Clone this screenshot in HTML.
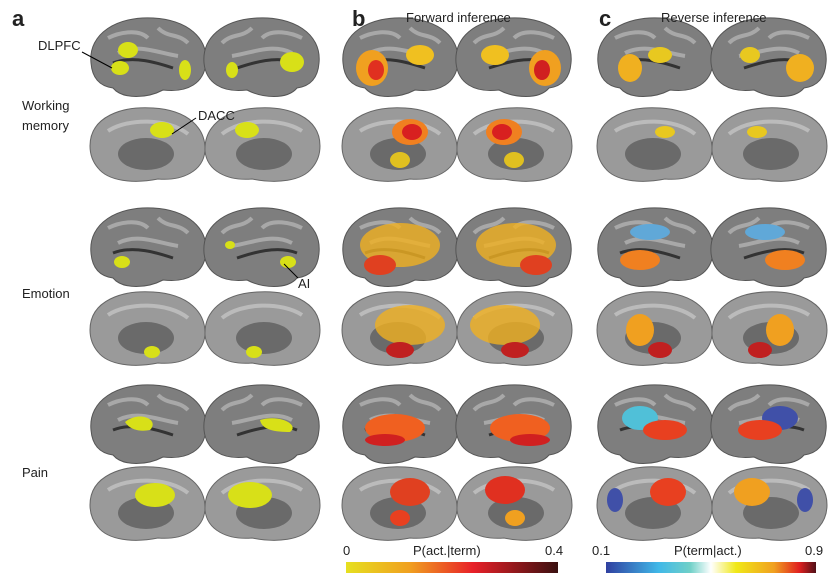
<!DOCTYPE html>
<html><head><meta charset="utf-8"><style>
html,body{margin:0;padding:0;background:#fff}
svg{display:block}
text{font-family:"Liberation Sans",sans-serif;fill:#222}
</style></head><body>
<svg width="835" height="586" viewBox="0 0 835 586" xmlns="http://www.w3.org/2000/svg">
<defs>
<linearGradient id="gb" x1="0" x2="1"><stop offset="0" stop-color="#e6e020"/><stop offset="0.3" stop-color="#f0a020"/><stop offset="0.6" stop-color="#e82028"/><stop offset="1" stop-color="#3a1010"/></linearGradient>
<linearGradient id="gc" x1="0" x2="1"><stop offset="0" stop-color="#3040a0"/><stop offset="0.25" stop-color="#40b8e8"/><stop offset="0.4" stop-color="#70d0c8"/><stop offset="0.5" stop-color="#ffffff"/><stop offset="0.62" stop-color="#f0e818"/><stop offset="0.8" stop-color="#f0a020"/><stop offset="0.92" stop-color="#e02020"/><stop offset="1" stop-color="#501018"/></linearGradient>
<g id="lat"><path d="M-57,5 C-60,-25 -30,-42 5,-40 C40,-38 60,-20 58,5 C56,25 40,35 15,32 C0,40 -25,42 -35,30 C-50,28 -56,18 -57,5Z" fill="#7e7e7e" stroke="#555" stroke-width="1"/><path d="M-30,-5 C-10,-15 10,-5 30,-2 M-40,-20 C-30,-25 -10,-30 0,-20 M10,-30 C20,-20 30,-25 40,-15" stroke="#a8a8a8" stroke-width="4" fill="none"/><path d="M-35,5 C-15,-3 10,5 25,10" stroke="#333" stroke-width="3" fill="none"/></g>
<g id="med"><path d="M-58,0 C-58,-30 -25,-40 5,-38 C40,-36 58,-18 57,5 C55,25 35,35 10,33 C-15,38 -40,35 -50,22 C-56,15 -58,8 -58,0Z" fill="#9a9a9a" stroke="#666" stroke-width="1"/><ellipse cx="-2" cy="8" rx="28" ry="16" fill="#6a6a6a"/><path d="M-40,-15 C-20,-28 20,-28 40,-12" stroke="#bbb" stroke-width="4" fill="none"/></g>
</defs>
<!-- brains -->
<g id="allbrains">
<use href="#lat" x="148" y="58"/><use href="#lat" x="262" y="58" transform="translate(524,0) scale(-1,1)"/>
<use href="#med" x="148" y="146"/><use href="#med" x="262" y="146" transform="translate(524,0) scale(-1,1)"/>
<use href="#lat" x="148" y="248"/><use href="#lat" x="262" y="248" transform="translate(524,0) scale(-1,1)"/>
<use href="#med" x="148" y="330"/><use href="#med" x="262" y="330" transform="translate(524,0) scale(-1,1)"/>
<use href="#lat" x="148" y="425"/><use href="#lat" x="262" y="425" transform="translate(524,0) scale(-1,1)"/>
<use href="#med" x="148" y="505"/><use href="#med" x="262" y="505" transform="translate(524,0) scale(-1,1)"/>
</g>
<use href="#allbrains" x="252"/>
<use href="#allbrains" x="507"/>
<!-- panel a blobs -->
<g fill="#d8e018">
<ellipse cx="120" cy="68" rx="9" ry="7"/><ellipse cx="128" cy="50" rx="10" ry="8"/><ellipse cx="185" cy="70" rx="6" ry="10"/><ellipse cx="292" cy="62" rx="12" ry="10"/><ellipse cx="232" cy="70" rx="6" ry="8"/>
<ellipse cx="162" cy="130" rx="12" ry="8"/><ellipse cx="247" cy="130" rx="12" ry="8"/>
<ellipse cx="122" cy="262" rx="8" ry="6"/><ellipse cx="288" cy="262" rx="8" ry="6"/><ellipse cx="230" cy="245" rx="5" ry="4"/>
<ellipse cx="152" cy="352" rx="8" ry="6"/><ellipse cx="254" cy="352" rx="8" ry="6"/>
<path d="M125,422 C140,410 160,420 150,430 C140,432 130,430 125,422Z"/><path d="M260,420 C280,414 300,425 290,432 C275,432 262,430 260,420Z"/>
<ellipse cx="155" cy="495" rx="20" ry="12"/><ellipse cx="250" cy="495" rx="22" ry="13"/>
</g>
<!-- panel b blobs -->
<g>
<ellipse cx="372" cy="68" rx="16" ry="18" fill="#f0a020"/><ellipse cx="376" cy="70" rx="8" ry="10" fill="#e03020"/><ellipse cx="420" cy="55" rx="14" ry="10" fill="#f0c020"/>
<ellipse cx="545" cy="68" rx="16" ry="18" fill="#f0a020"/><ellipse cx="542" cy="70" rx="8" ry="10" fill="#d02020"/><ellipse cx="495" cy="55" rx="14" ry="10" fill="#f0c020"/>
<ellipse cx="410" cy="132" rx="18" ry="13" fill="#f08020"/><ellipse cx="412" cy="132" rx="10" ry="8" fill="#d82020"/>
<ellipse cx="504" cy="132" rx="18" ry="13" fill="#f08020"/><ellipse cx="502" cy="132" rx="10" ry="8" fill="#d82020"/>
<ellipse cx="400" cy="160" rx="10" ry="8" fill="#e0c020"/><ellipse cx="514" cy="160" rx="10" ry="8" fill="#e0c020"/>
<ellipse cx="400" cy="245" rx="40" ry="22" fill="#f0b020" opacity="0.8"/><ellipse cx="380" cy="265" rx="16" ry="10" fill="#e04020"/>
<ellipse cx="516" cy="245" rx="40" ry="22" fill="#f0b020" opacity="0.8"/><ellipse cx="536" cy="265" rx="16" ry="10" fill="#e04020"/>
<ellipse cx="410" cy="325" rx="35" ry="20" fill="#f0b020" opacity="0.8"/><ellipse cx="400" cy="350" rx="14" ry="8" fill="#c02020"/>
<ellipse cx="505" cy="325" rx="35" ry="20" fill="#f0b020" opacity="0.8"/><ellipse cx="515" cy="350" rx="14" ry="8" fill="#c02020"/>
<ellipse cx="395" cy="428" rx="30" ry="14" fill="#f06020"/><ellipse cx="385" cy="440" rx="20" ry="6" fill="#d02020"/>
<ellipse cx="520" cy="428" rx="30" ry="14" fill="#f06020"/><ellipse cx="530" cy="440" rx="20" ry="6" fill="#d02020"/>
<ellipse cx="410" cy="492" rx="20" ry="14" fill="#e04020"/><ellipse cx="400" cy="518" rx="10" ry="8" fill="#e84020"/>
<ellipse cx="505" cy="490" rx="20" ry="14" fill="#e03020"/><ellipse cx="515" cy="518" rx="10" ry="8" fill="#f0a020"/>
</g>
<!-- panel c blobs -->
<g>
<ellipse cx="630" cy="68" rx="12" ry="14" fill="#f0b020"/><ellipse cx="660" cy="55" rx="12" ry="8" fill="#e8c820"/><ellipse cx="800" cy="68" rx="14" ry="14" fill="#f0b020"/><ellipse cx="750" cy="55" rx="10" ry="8" fill="#e8c820"/>
<ellipse cx="665" cy="132" rx="10" ry="6" fill="#e8c820"/><ellipse cx="757" cy="132" rx="10" ry="6" fill="#e8c820"/>
<ellipse cx="640" cy="260" rx="20" ry="10" fill="#f08020"/><ellipse cx="650" cy="232" rx="20" ry="8" fill="#60a8d8"/><ellipse cx="785" cy="260" rx="20" ry="10" fill="#f08020"/><ellipse cx="765" cy="232" rx="20" ry="8" fill="#60a8d8"/>
<ellipse cx="640" cy="330" rx="14" ry="16" fill="#f0a020"/><ellipse cx="660" cy="350" rx="12" ry="8" fill="#c02020"/><ellipse cx="780" cy="330" rx="14" ry="16" fill="#f0a020"/><ellipse cx="760" cy="350" rx="12" ry="8" fill="#c02020"/>
<ellipse cx="640" cy="418" rx="18" ry="12" fill="#50c0d8"/><ellipse cx="665" cy="430" rx="22" ry="10" fill="#e84020"/><ellipse cx="780" cy="418" rx="18" ry="12" fill="#4050a8"/><ellipse cx="760" cy="430" rx="22" ry="10" fill="#e84020"/>
<ellipse cx="668" cy="492" rx="18" ry="14" fill="#e84020"/><ellipse cx="615" cy="500" rx="8" ry="12" fill="#4050a8"/><ellipse cx="752" cy="492" rx="18" ry="14" fill="#f0a020"/><ellipse cx="805" cy="500" rx="8" ry="12" fill="#4050a8"/>
</g>
<!-- labels -->
<text x="12" y="26" font-size="22" font-weight="bold">a</text>
<text x="352" y="26" font-size="22" font-weight="bold">b</text>
<text x="599" y="26" font-size="22" font-weight="bold">c</text>
<text x="406" y="22" font-size="13">Forward inference</text>
<text x="661" y="22" font-size="13">Reverse inference</text>
<text x="38" y="50" font-size="13">DLPFC</text>
<path d="M82,52 L112,68" stroke="#000" stroke-width="1"/>
<text x="22" y="110" font-size="13">Working</text>
<text x="22" y="130" font-size="13">memory</text>
<text x="198" y="120" font-size="13">DACC</text>
<path d="M196,118 L172,134" stroke="#000" stroke-width="1"/>
<text x="22" y="298" font-size="13">Emotion</text>
<text x="298" y="288" font-size="13">AI</text>
<path d="M298,278 L284,264" stroke="#000" stroke-width="1"/>
<text x="22" y="477" font-size="13">Pain</text>
<text x="343" y="555" font-size="13">0</text>
<text x="413" y="555" font-size="13">P(act.|term)</text>
<text x="545" y="555" font-size="13">0.4</text>
<text x="592" y="555" font-size="13">0.1</text>
<text x="674" y="555" font-size="13">P(term|act.)</text>
<text x="805" y="555" font-size="13">0.9</text>
<rect x="346" y="562" width="212" height="11" fill="url(#gb)"/>
<rect x="606" y="562" width="210" height="11" fill="url(#gc)"/>
</svg>
</body></html>
